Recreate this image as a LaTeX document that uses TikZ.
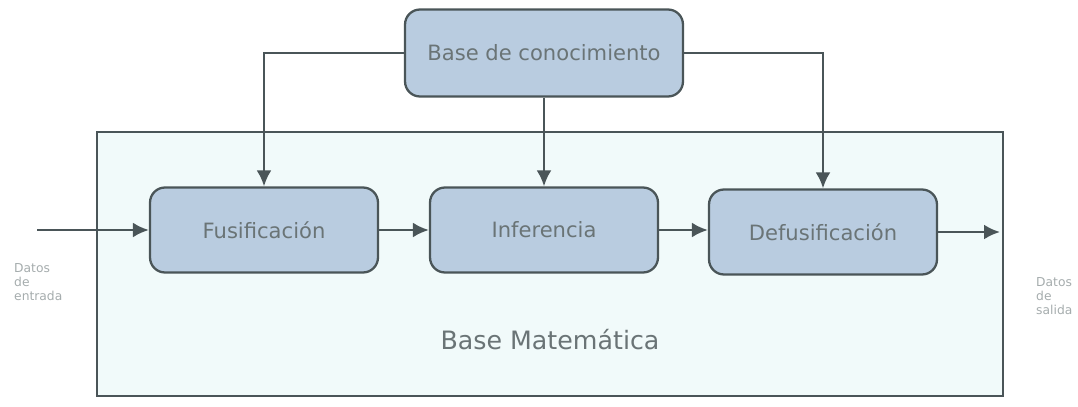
\documentclass[tikz,border=0pt]{standalone}
\usepackage{fontspec}
\setmainfont{DejaVu Sans}
\usetikzlibrary{arrows.meta}

\definecolor{caja}{HTML}{B9CCE0}
\definecolor{fondo}{HTML}{F1FAFA}
\definecolor{borde}{HTML}{4A5558}
\definecolor{texto}{HTML}{6A7476}

\tikzset{
bloque/.style={draw=borde, line width=1.3pt, fill=caja,
  rounded corners=0.3cm, minimum width=4.56cm, minimum height=1.7cm,
  text=texto, font=\large},
flecha/.style={-{Latex[length=3.2mm,width=3mm]}, line width=1.5pt, draw=borde}
}

\begin{document}
\begin{tikzpicture}[x=0.02cm,y=-0.02cm]
\useasboundingbox (0,0) rectangle (1078,406);

% Fondo
\draw[borde, line width=0.8pt, fill=fondo] (97,132) rectangle (1003,396);

\node[text=texto, font=\Large] (mat) at (550,340)
{Base Matemática};

% Bloques
\node[bloque, minimum width=5.56cm, minimum height=1.74cm] (base) at (544,53)
{Base de conocimiento};

\node[bloque] (fus) at (264,230)
{Fusificación};

\node[bloque] (inf) at (544,230)
{Inferencia};

\node[bloque] (def) at (823,232)
{Defusificación};

% Entrada y salida
\coordinate (ent) at (37,230);
\coordinate (sal) at (1000,232);

\node[font=\scriptsize, text=texto!60, align=left, anchor=west] (entrada) at (8,282)
{Datos\\de\\entrada};

\node[font=\scriptsize, text=texto!60, align=left, anchor=west] (salida) at (1030,296)
{Datos\\de\\salida};

% Flechas
\draw[flecha] (base.west) -| (fus.north);
\draw[flecha] (base.south) -- (inf.north);
\draw[flecha] (base.east) -| (def.north);

\draw[flecha] (ent) -- (fus.west);
\draw[flecha] (fus.east) -- (inf.west);
\draw[flecha] (inf.east) -- (def.west |- inf.east);
\draw[flecha] (def.east) -- (sal);

\end{tikzpicture}
\end{document}
